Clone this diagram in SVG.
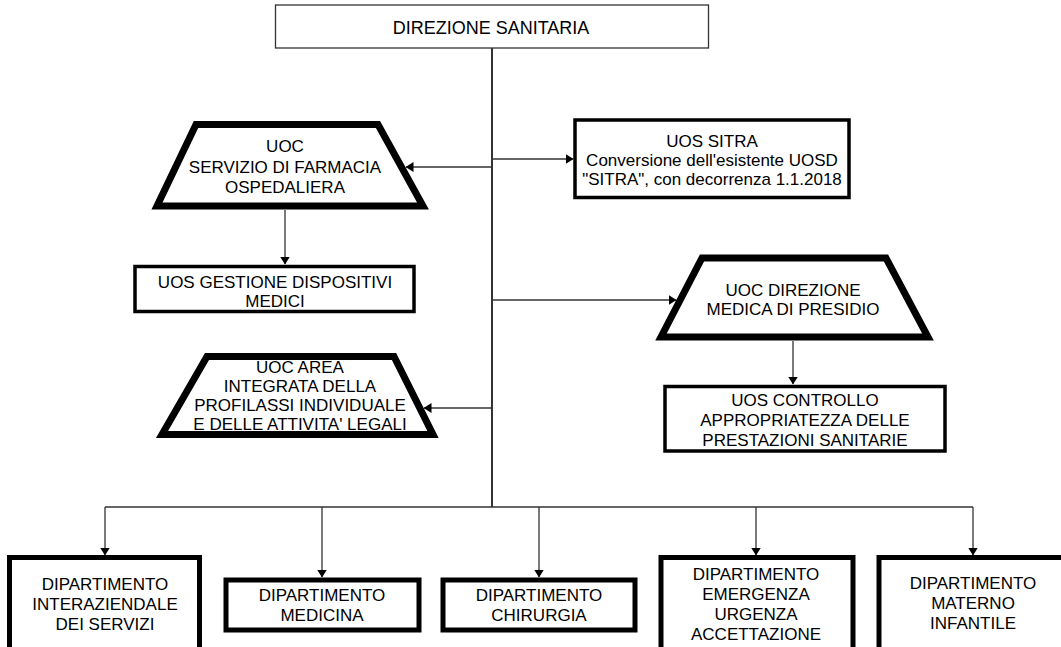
<svg xmlns="http://www.w3.org/2000/svg" width="1061" height="647" viewBox="0 0 1061 647">
<style>
text{font-family:"Liberation Sans",Arial,sans-serif;font-size:17px;fill:#000;text-anchor:middle}
.trap{fill:#fff;stroke:#000;stroke-width:7;stroke-linejoin:miter;stroke-miterlimit:10}
.uos{fill:#fff;stroke:#000;stroke-width:3.5}
.dip{fill:#fff;stroke:#000;stroke-width:5}
.top{fill:#fff;stroke:#333;stroke-width:1.3}
.c{fill:none;stroke:#333;stroke-width:1.3}
.a{marker-end:url(#ah)}
</style>
<defs>
<marker id="ah" markerUnits="userSpaceOnUse" markerWidth="8" markerHeight="10" refX="7.5" refY="5" orient="auto">
<path d="M0,0 L8,5 L0,10 z" fill="#000"/>
</marker>
</defs>
<rect width="1061" height="647" fill="#fff"/>
<g id="connectors">
<path class="c" d="M492,48 V507" style="stroke:#000;stroke-width:1.6"/>
<path class="c" d="M105,507 H973"/>
<path class="c a" d="M105,507 V555"/>
<path class="c a" d="M322,507 V577"/>
<path class="c a" d="M539,507 V577"/>
<path class="c a" d="M756,507 V555"/>
<path class="c a" d="M973,507 V555"/>
<path class="c a" d="M492,167 H406"/>
<path class="c a" d="M492,159 H573"/>
<path class="c a" d="M285,210 V264"/>
<path class="c a" d="M492,300 H676"/>
<path class="c a" d="M793,341 V384"/>
<path class="c a" d="M492,408 H424"/>
</g>
<g id="direzione-sanitaria">
<rect class="top" x="275.5" y="5" width="433" height="43"/>
<text x="491" y="34" style="font-size:18px">DIREZIONE SANITARIA</text>
</g>
<g id="uoc-farmacia">
<polygon class="trap" points="196,124.5 378,124.5 423,206 157,206"/>
<text x="285" y="152">UOC</text>
<text x="285" y="173">SERVIZIO DI FARMACIA</text>
<text x="285" y="193">OSPEDALIERA</text>
</g>
<g id="uos-sitra">
<rect class="uos" x="575" y="120" width="274" height="77.5"/>
<text x="712" y="147">UOS SITRA</text>
<text x="712" y="166">Conversione dell'esistente UOSD</text>
<text x="712" y="185">"SITRA", con decorrenza 1.1.2018</text>
</g>
<g id="uos-dispositivi">
<rect class="uos" x="135" y="266.5" width="279" height="45"/>
<text x="275" y="288">UOS GESTIONE DISPOSITIVI</text>
<text x="275" y="307">MEDICI</text>
</g>
<g id="uoc-direzione-medica">
<polygon class="trap" points="702,258 886,258 928,337 661,337"/>
<text x="793" y="296">UOC DIREZIONE</text>
<text x="793" y="315">MEDICA DI PRESIDIO</text>
</g>
<g id="uos-controllo">
<rect class="uos" x="665" y="386.5" width="280" height="64.5"/>
<text x="805" y="406">UOS CONTROLLO</text>
<text x="805" y="426">APPROPRIATEZZA DELLE</text>
<text x="805" y="446">PRESTAZIONI SANITARIE</text>
</g>
<g id="uoc-profilassi">
<polygon class="trap" points="207,356.5 394,356.5 433,434.5 162,434.5"/>
<text x="300" y="373">UOC AREA</text>
<text x="300" y="392">INTEGRATA DELLA</text>
<text x="300" y="411">PROFILASSI INDIVIDUALE</text>
<text x="300" y="429.5">E DELLE ATTIVITA' LEGALI</text>
</g>
<g id="dip-servizi">
<rect class="dip" x="9.5" y="557.5" width="190" height="110"/>
<text x="105" y="590">DIPARTIMENTO</text>
<text x="105" y="610">INTERAZIENDALE</text>
<text x="105" y="630">DEI SERVIZI</text>
</g>
<g id="dip-medicina">
<rect class="dip" x="226" y="580" width="193" height="50"/>
<text x="322" y="601">DIPARTIMENTO</text>
<text x="322" y="621">MEDICINA</text>
</g>
<g id="dip-chirurgia">
<rect class="dip" x="443" y="580" width="192" height="50"/>
<text x="539" y="601">DIPARTIMENTO</text>
<text x="539" y="621">CHIRURGIA</text>
</g>
<g id="dip-emergenza">
<rect class="dip" x="661" y="557.5" width="192" height="110"/>
<text x="756" y="580">DIPARTIMENTO</text>
<text x="756" y="600">EMERGENZA</text>
<text x="756" y="620">URGENZA</text>
<text x="756" y="640">ACCETTAZIONE</text>
</g>
<g id="dip-materno">
<rect class="dip" x="879" y="557.5" width="190" height="110"/>
<text x="973" y="589">DIPARTIMENTO</text>
<text x="973" y="609">MATERNO</text>
<text x="973" y="629">INFANTILE</text>
</g>
</svg>
